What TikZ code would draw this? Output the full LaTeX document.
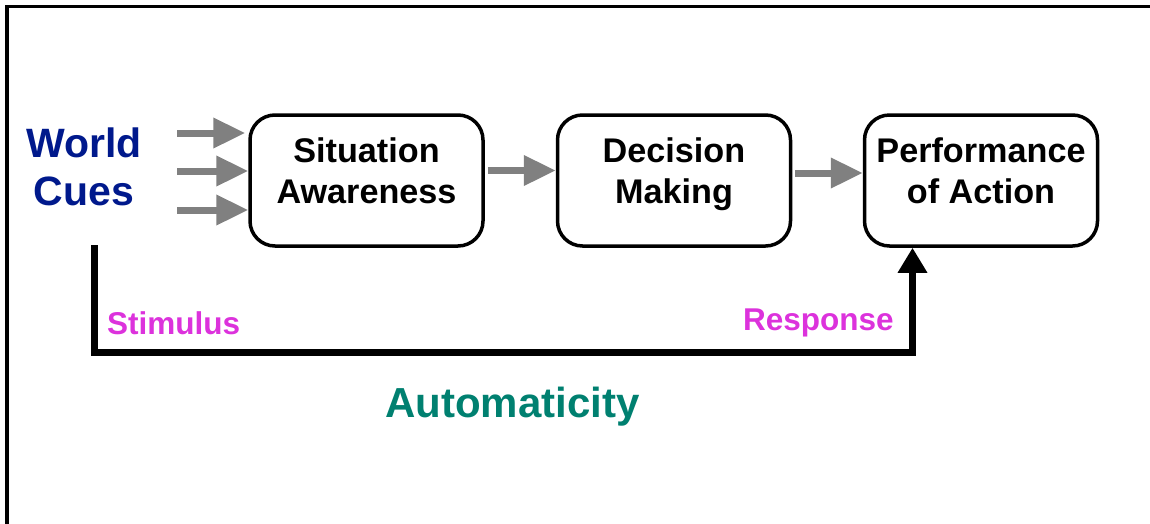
\documentclass[tikz,border=0pt]{standalone}
\usepackage{fontspec}
\setmainfont{Liberation Sans}
\usetikzlibrary{arrows.meta}
\definecolor{cueblue}{RGB}{0,25,140}
\definecolor{stimmag}{RGB}{220,50,220}
\definecolor{autoteal}{RGB}{0,128,112}
\definecolor{arrgray}{RGB}{128,128,128}
\tikzset{
  procbox/.style={draw=black, line width=3.5pt, rounded corners=25pt, minimum width=233pt, minimum height=131pt, inner sep=0pt, align=center, font=\fontsize{34.2}{41}\selectfont\bfseries},
  grayarrow/.style={draw=arrgray, line width=7pt, -{Triangle[length=32pt,width=29pt]}},
  blackarrow/.style={draw=black, line width=7pt, -{Triangle[length=25pt,width=28pt]}},
  magtext/.style={text=stimmag, font=\fontsize{31.5}{38}\selectfont\bfseries, inner sep=0pt},
}
\begin{document}
\begin{tikzpicture}[x=1pt,y=-1pt]
\useasboundingbox (0,0) rectangle (1150,523);
% frame
\draw[line width=3.2pt] (7,540) -- (7,6.5) -- (1170,6.5);
% boxes
\node[procbox] (SA) at (366.5,180.5) {Situation\\Awareness\rule[-20pt]{0pt}{20pt}};
\node[procbox] (DM) at (674,180.5) {Decision\\Making\rule[-20pt]{0pt}{20pt}};
\node[procbox] (PA) at (981,180.5) {Performance\\of Action\rule[-20pt]{0pt}{20pt}};
% world cues
\node[text=cueblue, font=\fontsize{41}{48}\selectfont\bfseries, align=center, inner sep=0pt] (WC) at (84,167) {World\\Cues};
% input arrows
\coordinate (in1) at (177,133);
\coordinate (in2) at (177,171);
\coordinate (in3) at (177,210);
\draw[grayarrow] (in1) -- ([xshift=-3pt]in1 -| SA.west);
\draw[grayarrow] (in2) -- (in2 -| SA.west);
\draw[grayarrow] (in3) -- (in3 -| SA.west);
% between boxes
\draw[grayarrow] ([yshift=10pt,xshift=3pt]SA.east) -- ([yshift=10pt]DM.west);
\draw[grayarrow] ([yshift=7.5pt,xshift=3pt]DM.east) -- ([yshift=7.5pt]PA.west);
% automaticity loop
\coordinate (st) at (94.5,245);
\coordinate (rt) at (912.5,352);
\draw[blackarrow] (st) |- (rt) -- (rt |- PA.south);
% labels
\node[magtext, anchor=base west] (stim) at (107,334) {Stimulus};
\node[magtext, anchor=base west] (resp) at (743,330) {Response};
\node[text=autoteal, font=\fontsize{42}{50}\selectfont\bfseries, inner sep=0pt, anchor=base west] (auto) at (385,417) {Automaticity};
\end{tikzpicture}
\end{document}
